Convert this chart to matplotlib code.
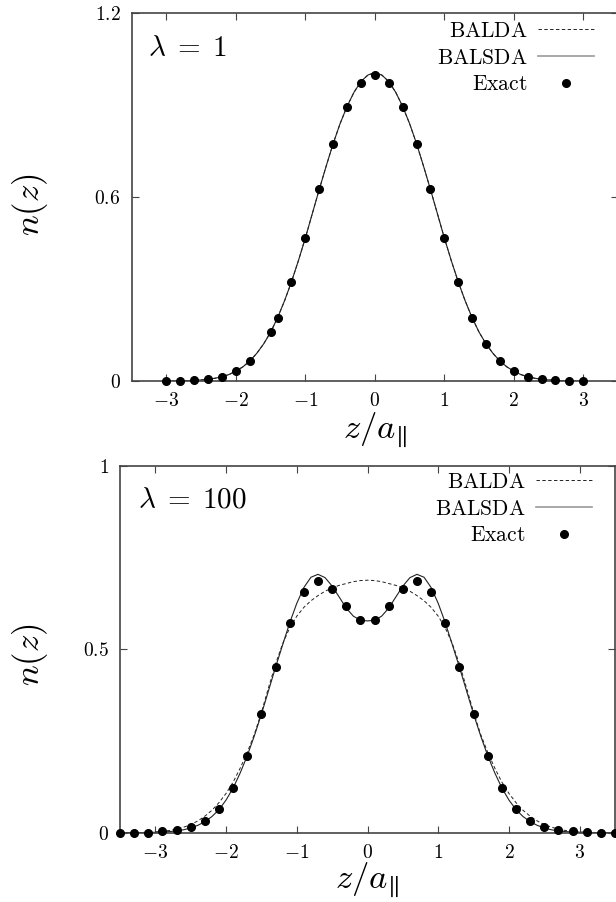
import numpy as np
import matplotlib
matplotlib.use("Agg")
import matplotlib.pyplot as plt
from matplotlib.lines import Line2D

plt.rcParams["mathtext.fontset"] = "cm"
plt.rcParams["font.family"] = ["DejaVu Serif"]

# ---------------- data: lambda = 1 ----------------
top_x_curve = np.round(np.arange(-30, 31) / 10, 1)
top_balsda = [0.0004, 0.0007, 0.0012, 0.002, 0.003, 0.0045, 0.0065, 0.010, 0.015, 0.022,
              0.033, 0.047, 0.066, 0.091, 0.122, 0.160, 0.207, 0.262, 0.324, 0.393,
              0.467, 0.546, 0.625, 0.701, 0.774, 0.839, 0.895, 0.941, 0.976, 0.997,
              1.005,
              0.997, 0.976, 0.941, 0.895, 0.839, 0.774, 0.701, 0.625, 0.546, 0.467,
              0.393, 0.324, 0.262, 0.207, 0.160, 0.122, 0.091, 0.066, 0.047, 0.033,
              0.022, 0.015, 0.010, 0.0065, 0.0045, 0.003, 0.002, 0.0012, 0.0007, 0.0004]
top_balda = list(top_balsda)  # the two curves coincide for lambda = 1

top_x_exact = [-3.0, -2.8, -2.6, -2.4, -2.2, -2.0, -1.8, -1.5, -1.4, -1.2, -1.0, -0.8,
               -0.6, -0.4, -0.2, 0.0, 0.2, 0.4, 0.6, 0.8, 1.0, 1.2, 1.4, 1.6, 1.8,
               2.0, 2.2, 2.4, 2.6, 2.8, 3.0]
top_exact = [0.0, 0.001, 0.003, 0.0065, 0.015, 0.0335, 0.066, 0.159, 0.207, 0.324,
             0.467, 0.625, 0.772, 0.894, 0.972, 0.998, 0.972, 0.894, 0.772, 0.625,
             0.467, 0.324, 0.207, 0.122, 0.066, 0.0335, 0.015, 0.0065, 0.003, 0.001, 0.0]

# ---------------- data: lambda = 100 ----------------
bot_x_curve = np.round(np.arange(-35, 36) / 10, 1)
bot_balsda = [0.0, 0.0001, 0.0002, 0.0003, 0.0005, 0.001, 0.002, 0.003, 0.005, 0.008,
              0.013, 0.020, 0.030, 0.044, 0.063, 0.089, 0.122, 0.163, 0.210, 0.264,
              0.323, 0.387, 0.451, 0.512, 0.572, 0.625, 0.668, 0.696, 0.704, 0.695,
              0.672, 0.642, 0.612, 0.590, 0.579,
              0.577,
              0.579, 0.590, 0.612, 0.642, 0.672, 0.695, 0.704, 0.696, 0.668, 0.625,
              0.572, 0.512, 0.451, 0.387, 0.323, 0.264, 0.210, 0.163, 0.122, 0.089,
              0.063, 0.044, 0.030, 0.020, 0.013, 0.008, 0.005, 0.003, 0.002, 0.001,
              0.0005, 0.0003, 0.0002, 0.0001, 0.0]
bot_balda = [0.0001, 0.0002, 0.0004, 0.0007, 0.0012, 0.002, 0.004, 0.006, 0.010, 0.015,
             0.022, 0.032, 0.045, 0.061, 0.082, 0.107, 0.138, 0.176, 0.219, 0.268,
             0.328, 0.395, 0.460, 0.515, 0.558, 0.590, 0.614, 0.632, 0.646, 0.658,
             0.667, 0.674, 0.679, 0.684, 0.687,
             0.688,
             0.687, 0.684, 0.679, 0.674, 0.667, 0.658, 0.646, 0.632, 0.614, 0.590,
             0.558, 0.515, 0.460, 0.395, 0.328, 0.268, 0.219, 0.176, 0.138, 0.107,
             0.082, 0.061, 0.045, 0.032, 0.022, 0.015, 0.010, 0.006, 0.004, 0.002,
             0.0012, 0.0007, 0.0004, 0.0002, 0.0001]

bot_x_exact = np.round(np.arange(-35, 36, 2) / 10, 1)
bot_exact = [0.0, 0.0, 0.0, 0.004, 0.007, 0.015, 0.033, 0.065, 0.123, 0.21,
             0.323, 0.451, 0.571, 0.657, 0.687, 0.664, 0.618, 0.580,
             0.580, 0.618, 0.664, 0.687, 0.657, 0.571, 0.451, 0.323, 0.21, 0.123,
             0.065, 0.033, 0.015, 0.007, 0.004, 0.001, 0.0, 0.0]

xticks = [-3, -2, -1, 0, 1, 2, 3]
xtick_labels = ["$-3$", "$-2$", "$-1$", "$0$", "$1$", "$2$", "$3$"]
top_yticks = [0, 0.6, 1.2]
top_ytick_labels = ["$0$", "$0.6$", "$1.2$"]
bot_yticks = [0, 0.5, 1]
bot_ytick_labels = ["$0$", "$0.5$", "$1$"]

W, H = 616, 902
fig = plt.figure(figsize=(W / 100, H / 100), dpi=100)

def px_axes(l, t, r, b):
    return fig.add_axes([l / W, 1 - b / H, (r - l) / W, (b - t) / H])

ax1 = px_axes(131.7, 12.7, 618, 381.3)
ax2 = px_axes(120, 465.7, 615, 832.7)

line_col = "#222222"

def draw(ax, xc, balda, balsda, xe, ex, ylim, yt, ytl, lam, lam_xy, leg_xy):
    l1, = ax.plot(xc, balda, color=line_col, lw=0.7, dashes=(3.5, 2.5), label=r"$\mathrm{BALDA}$")
    l2, = ax.plot(xc, balsda, color=line_col, lw=0.8, label=r"$\mathrm{BALSDA}$")
    l3, = ax.plot(xe, ex, "o", color="black", ms=5.5, ls="none", clip_on=False,
                  zorder=5, label=r"$\mathrm{Exact}$")
    ax.set_xlim(-3.5, 3.5)
    ax.set_ylim(*ylim)
    ax.set_xticks(xticks)
    ax.set_xticklabels(xtick_labels)
    ax.set_yticks(yt)
    ax.set_yticklabels(ytl)
    ax.tick_params(direction="in", top=True, right=True, length=5, width=0.8,
                   color="#444444", labelsize=14, pad=8)
    for s in ax.spines.values():
        s.set_color("#444444")
        s.set_linewidth(1.2)
    ax.text(lam_xy[0] / W, 1 - lam_xy[1] / H, lam, transform=fig.transFigure,
            fontsize=21, ha="left", va="center")
    h2 = Line2D([], [], color="#999999", lw=1.2)
    ax.legend([l1, h2, l3], [l1.get_label(), l2.get_label(), l3.get_label()],
              loc="upper right", bbox_to_anchor=(leg_xy[0] / W, 1 - leg_xy[1] / H),
              bbox_transform=fig.transFigure, frameon=False, markerfirst=False,
              fontsize=15.5, handlelength=2.6, handletextpad=0.5, labelspacing=0.22,
              borderpad=0, borderaxespad=0)

draw(ax1, top_x_curve, top_balda, top_balsda, top_x_exact, top_exact,
     (0, 1.2), top_yticks, top_ytick_labels, r"$\lambda\;=\;1$", (148, 48), (594, 20))
draw(ax2, bot_x_curve, bot_balda, bot_balsda, bot_x_exact, bot_exact,
     (0, 1), bot_yticks, bot_ytick_labels, r"$\lambda\;=\;100$", (138, 500), (592, 471))

# axis labels
fig.text(30 / W, 1 - 205 / H, r"$n(z)$", rotation=90, fontsize=25, ha="center", va="center")
fig.text(30 / W, 1 - 655 / H, r"$n(z)$", rotation=90, fontsize=25, ha="center", va="center")
fig.text(375 / W, 1 - 430 / H, r"$z/a_{\!\parallel}$", fontsize=25, ha="center", va="center")
fig.text(367 / W, 1 - 880 / H, r"$z/a_{\!\parallel}$", fontsize=25, ha="center", va="center")

fig.savefig("out.png", dpi=100)
